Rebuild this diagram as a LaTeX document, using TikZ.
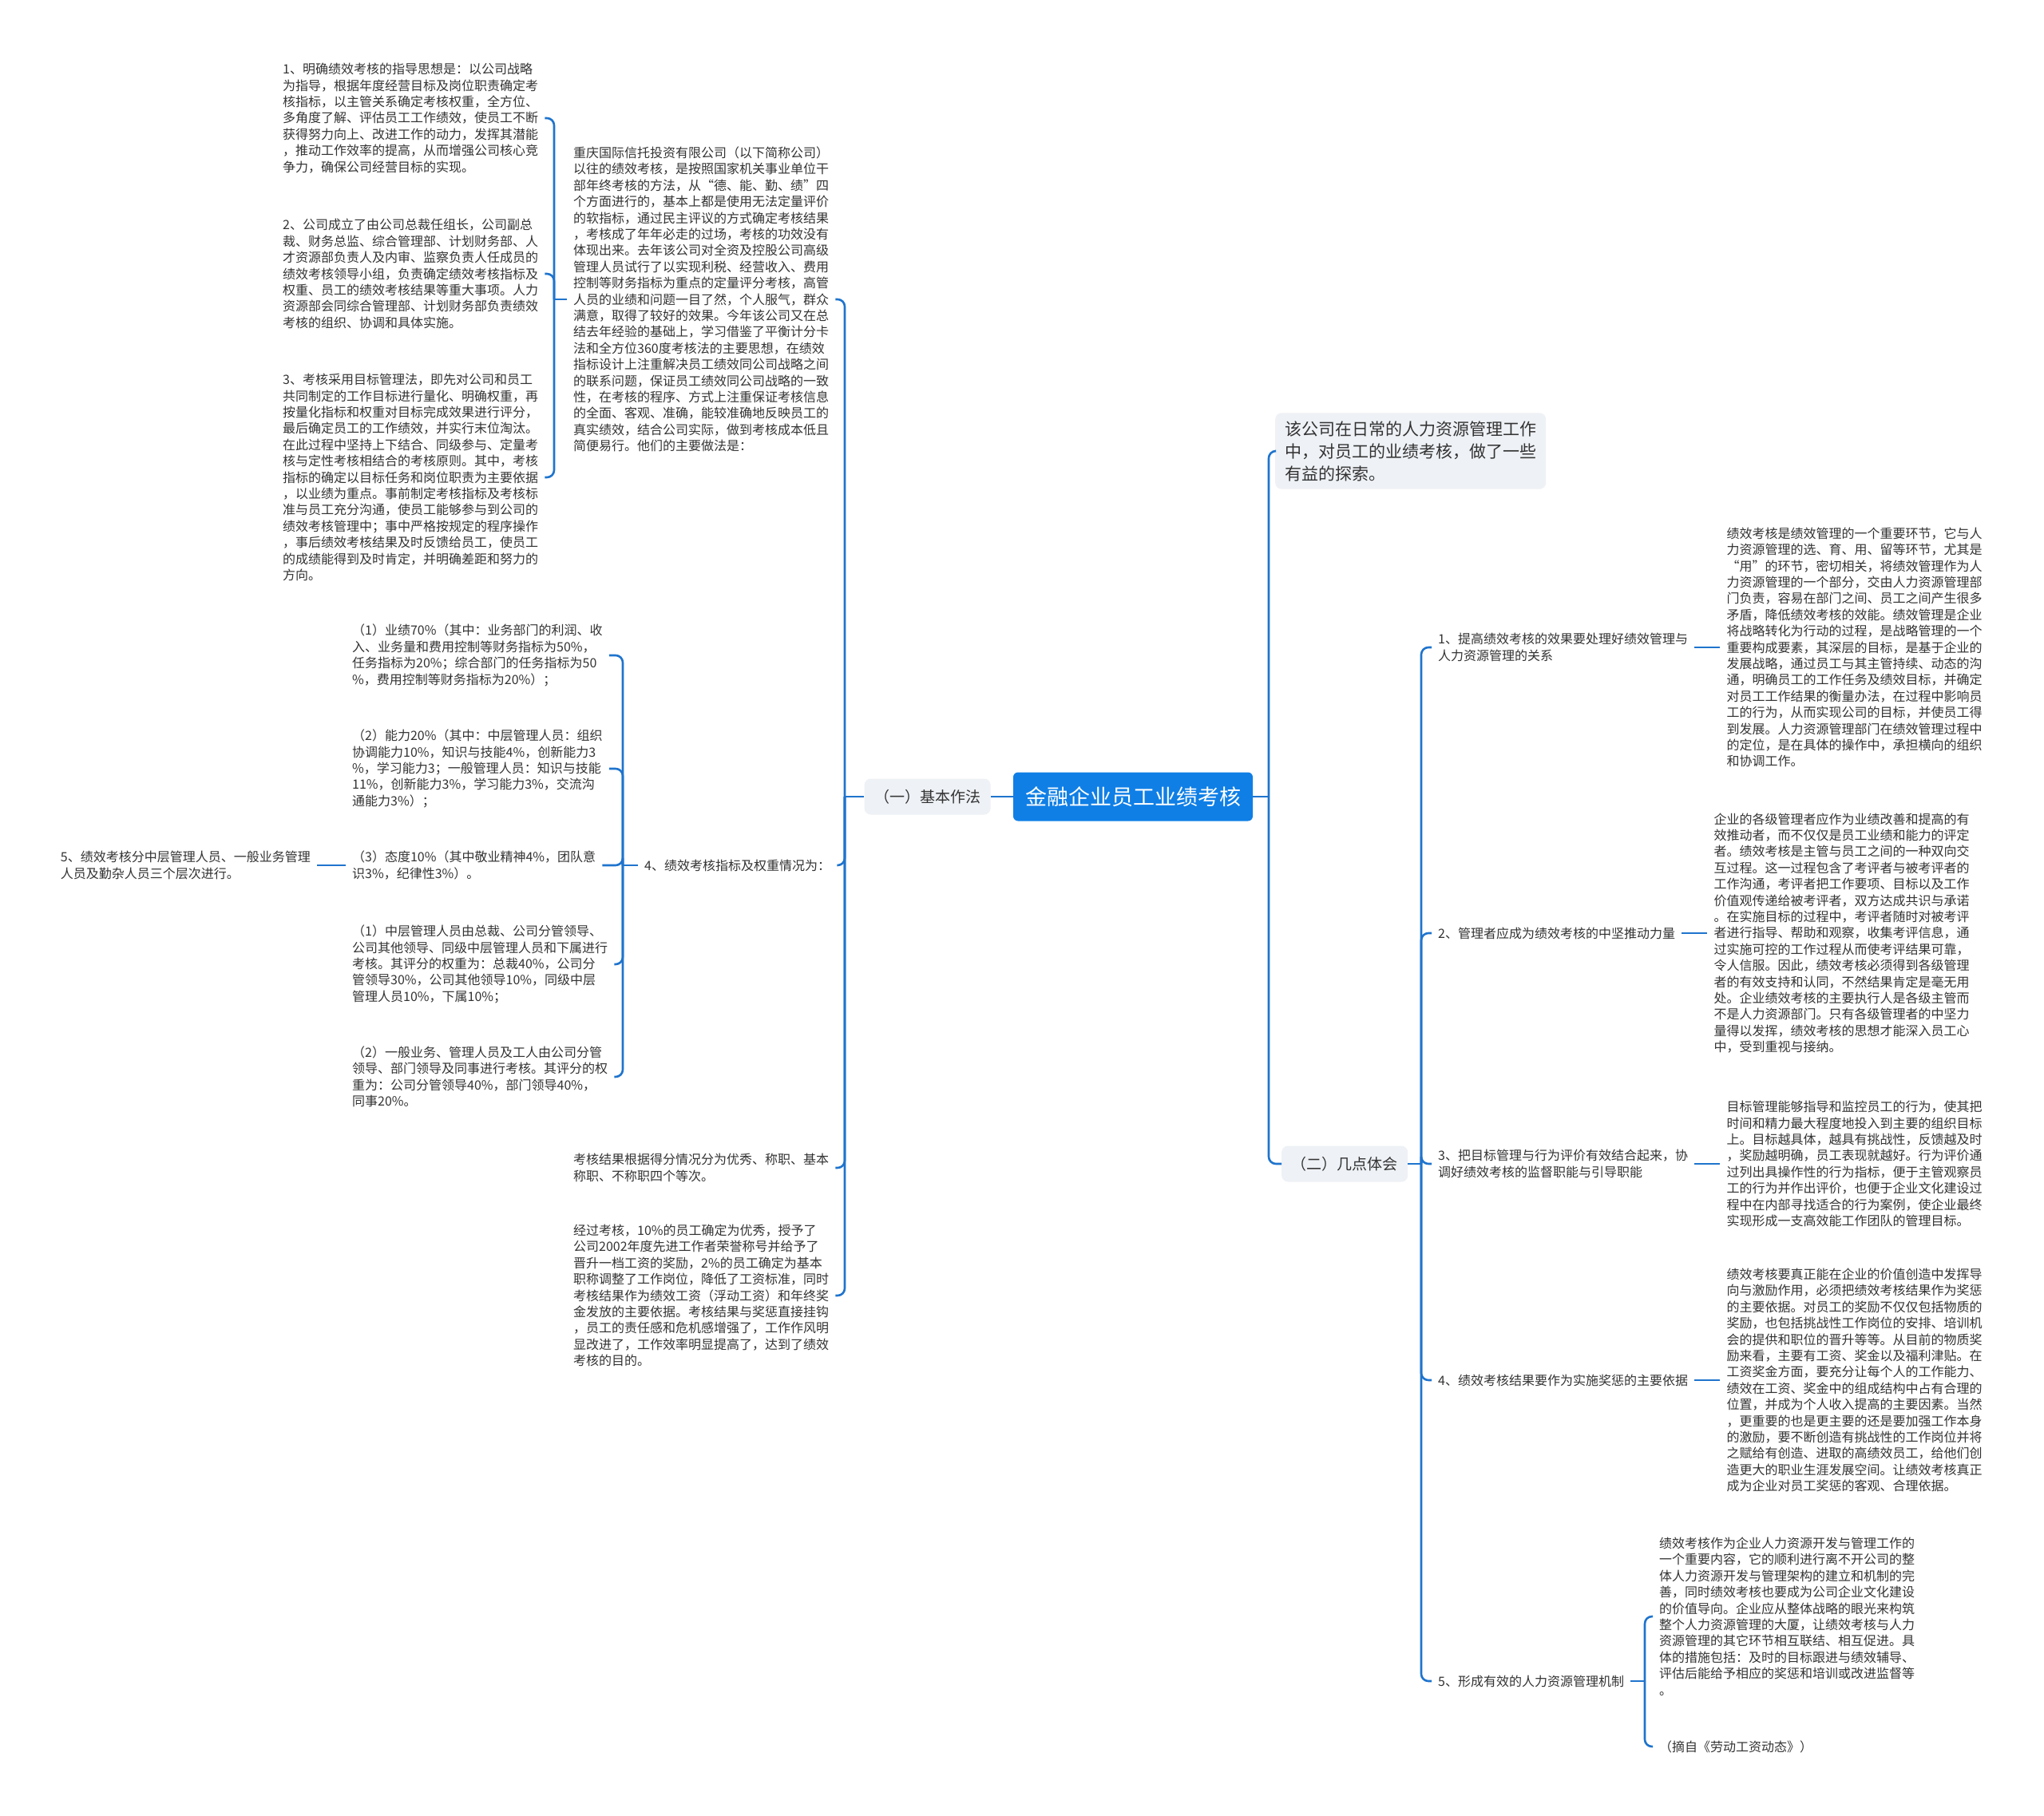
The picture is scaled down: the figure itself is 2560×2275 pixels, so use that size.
\documentclass[tikz,border=0pt]{standalone}
\usepackage{fontspec}
\setmainfont{Noto Sans CJK SC}
\usetikzlibrary{positioning}
\definecolor{rootblue}{HTML}{0F7FE6}
\definecolor{wireblue}{HTML}{1F74CD}
\definecolor{boxgray}{HTML}{EEF1F5}
\definecolor{ink}{HTML}{333333}

\begin{document}
\begin{tikzpicture}[x=1pt, y=-1pt,
  font=\fontsize{16pt}{20.4pt}\selectfont, node distance=32pt,
  txt/.style={align=left, inner xsep=8pt, inner ysep=3pt, text=ink, anchor=west},
  topic/.style={fill=boxgray, rounded corners=8pt, inner xsep=12.5pt, minimum height=45pt, text=ink, font=\fontsize{19pt}{24pt}\selectfont},
  rootbox/.style={fill=rootblue, text=white, rounded corners=6pt, minimum width=300pt, minimum height=61pt, font=\fontsize{27pt}{32pt}\selectfont},
  wire/.style={draw=wireblue, line width=2.6pt, rounded corners=9pt}]
\fill[white] (0,0) rectangle (2560,2275);
\useasboundingbox (0,0) rectangle (2560,2275);

\node[rootbox] (root) at (1419,998) {金融企业员工业绩考核};
\node[topic, left=28pt of root] (jb) {（一）基本作法};
\node[topic, anchor=west] (jt) at (1605,1458) {（二）几点体会};
\node[topic, anchor=west, align=left, inner xsep=12pt, inner ysep=10pt, font=\fontsize{21pt}{28pt}\selectfont] (hint) at (1597,565) {该公司在日常的人力资源管理工作\\中，对员工的业绩考核，做了一些\\有益的探索。};

\coordinate (lx) at (1058,998);
\coordinate (ax) at (694,375);
\coordinate (bx) at (780,1084);
\coordinate (cx) at (1589,998);
\coordinate (ex) at (1780,1458);
\coordinate (fx) at (2060,2106);

\node[txt] (p0) at (710,375) {重庆国际信托投资有限公司（以下简称公司）\\以往的绩效考核，是按照国家机关事业单位干\\部年终考核的方法，从“德、能、勤、绩”四\\个方面进行的，基本上都是使用无法定量评价\\的软指标，通过民主评议的方式确定考核结果\\，考核成了年年必走的过场，考核的功效没有\\体现出来。去年该公司对全资及控股公司高级\\管理人员试行了以实现利税、经营收入、费用\\控制等财务指标为重点的定量评分考核，高管\\人员的业绩和问题一目了然，个人服气，群众\\满意，取得了较好的效果。今年该公司又在总\\结去年经验的基础上，学习借鉴了平衡计分卡\\法和全方位360度考核法的主要思想，在绩效\\指标设计上注重解决员工绩效同公司战略之间\\的联系问题，保证员工绩效同公司战略的一致\\性，在考核的程序、方式上注重保证考核信息\\的全面、客观、准确，能较准确地反映员工的\\真实绩效，结合公司实际，做到考核成本低且\\简便易行。他们的主要做法是：};
\node[txt] (it1) at (346,148) {1、明确绩效考核的指导思想是：以公司战略\\为指导，根据年度经营目标及岗位职责确定考\\核指标，以主管关系确定考核权重，全方位、\\多角度了解、评估员工工作绩效，使员工不断\\获得努力向上、改进工作的动力，发挥其潜能\\，推动工作效率的提高，从而增强公司核心竞\\争力，确保公司经营目标的实现。};
\node[txt] (it2) at (346,343) {2、公司成立了由公司总裁任组长，公司副总\\裁、财务总监、综合管理部、计划财务部、人\\才资源部负责人及内审、监察负责人任成员的\\绩效考核领导小组，负责确定绩效考核指标及\\权重、员工的绩效考核结果等重大事项。人力\\资源部会同综合管理部、计划财务部负责绩效\\考核的组织、协调和具体实施。};
\node[txt] (it3) at (346,598) {3、考核采用目标管理法，即先对公司和员工\\共同制定的工作目标进行量化、明确权重，再\\按量化指标和权重对目标完成效果进行评分，\\最后确定员工的工作绩效，并实行末位淘汰。\\在此过程中坚持上下结合、同级参与、定量考\\核与定性考核相结合的考核原则。其中，考核\\指标的确定以目标任务和岗位职责为主要依据\\，以业绩为重点。事前制定考核指标及考核标\\准与员工充分沟通，使员工能够参与到公司的\\绩效考核管理中；事中严格按规定的程序操作\\，事后绩效考核结果及时反馈给员工，使员工\\的成绩能得到及时肯定，并明确差距和努力的\\方向。};
\node[txt] (r4) at (799,1084) {4、绩效考核指标及权重情况为：};
\node[txt] (w1) at (433,821) {（1）业绩70\%（其中：业务部门的利润、收\\入、业务量和费用控制等财务指标为50\%，\\任务指标为20\%；综合部门的任务指标为50\\\%，费用控制等财务指标为20\%）；};
\node[txt] (w2) at (433,963) {（2）能力20\%（其中：中层管理人员：组织\\协调能力10\%，知识与技能4\%，创新能力3\\\%，学习能力3；一般管理人员：知识与技能\\11\%，创新能力3\%，学习能力3\%，交流沟\\通能力3\%）；};
\node[txt] (w3) at (433,1084) {（3）态度10\%（其中敬业精神4\%，团队意\\识3\%，纪律性3\%）。};
\node[txt, left=36pt of w3] (l5) {5、绩效考核分中层管理人员、一般业务管理\\人员及勤杂人员三个层次进行。};
\node[txt] (lv1) at (433,1208) {（1）中层管理人员由总裁、公司分管领导、\\公司其他领导、同级中层管理人员和下属进行\\考核。其评分的权重为：总裁40\%，公司分\\管领导30\%，公司其他领导10\%，同级中层\\管理人员10\%，下属10\%；};
\node[txt] (lv2) at (433,1349) {（2）一般业务、管理人员及工人由公司分管\\领导、部门领导及同事进行考核。其评分的权\\重为：公司分管领导40\%，部门领导40\%，\\同事20\%。};
\node[txt] (res) at (710,1463) {考核结果根据得分情况分为优秀、称职、基本\\称职、不称职四个等次。};
\node[txt] (fin) at (710,1623) {经过考核，10\%的员工确定为优秀，授予了\\公司2002年度先进工作者荣誉称号并给予了\\晋升一档工资的奖励，2\%的员工确定为基本\\职称调整了工作岗位，降低了工资标准，同时\\考核结果作为绩效工资（浮动工资）和年终奖\\金发放的主要依据。考核结果与奖惩直接挂钩\\，员工的责任感和危机感增强了，工作作风明\\显改进了，工作效率明显提高了，达到了绩效\\考核的目的。};

\node[txt] (g1) at (1793,811) {1、提高绩效考核的效果要处理好绩效管理与\\人力资源管理的关系};
\node[txt] (g2) at (1793,1169) {2、管理者应成为绩效考核的中坚推动力量};
\node[txt] (g3) at (1793,1458) {3、把目标管理与行为评价有效结合起来，协\\调好绩效考核的监督职能与引导职能};
\node[txt] (g4) at (1793,1729) {4、绩效考核结果要作为实施奖惩的主要依据};
\node[txt] (g5) at (1793,2106) {5、形成有效的人力资源管理机制};
\node[txt, right=of g1] (d1) {绩效考核是绩效管理的一个重要环节，它与人\\力资源管理的选、育、用、留等环节，尤其是\\“用”的环节，密切相关，将绩效管理作为人\\力资源管理的一个部分，交由人力资源管理部\\门负责，容易在部门之间、员工之间产生很多\\矛盾，降低绩效考核的效能。绩效管理是企业\\将战略转化为行动的过程，是战略管理的一个\\重要构成要素，其深层的目标，是基于企业的\\发展战略，通过员工与其主管持续、动态的沟\\通，明确员工的工作任务及绩效目标，并确定\\对员工工作结果的衡量办法，在过程中影响员\\工的行为，从而实现公司的目标，并使员工得\\到发展。人力资源管理部门在绩效管理过程中\\的定位，是在具体的操作中，承担横向的组织\\和协调工作。};
\node[txt, right=of g2] (d2) {企业的各级管理者应作为业绩改善和提高的有\\效推动者，而不仅仅是员工业绩和能力的评定\\者。绩效考核是主管与员工之间的一种双向交\\互过程。这一过程包含了考评者与被考评者的\\工作沟通，考评者把工作要项、目标以及工作\\价值观传递给被考评者，双方达成共识与承诺\\。在实施目标的过程中，考评者随时对被考评\\者进行指导、帮助和观察，收集考评信息，通\\过实施可控的工作过程从而使考评结果可靠，\\令人信服。因此，绩效考核必须得到各级管理\\者的有效支持和认同，不然结果肯定是毫无用\\处。企业绩效考核的主要执行人是各级主管而\\不是人力资源部门。只有各级管理者的中坚力\\量得以发挥，绩效考核的思想才能深入员工心\\中，受到重视与接纳。};
\node[txt, right=of g3] (d3) {目标管理能够指导和监控员工的行为，使其把\\时间和精力最大程度地投入到主要的组织目标\\上。目标越具体，越具有挑战性，反馈越及时\\，奖励越明确，员工表现就越好。行为评价通\\过列出具操作性的行为指标，便于主管观察员\\工的行为并作出评价，也便于企业文化建设过\\程中在内部寻找适合的行为案例，使企业最终\\实现形成一支高效能工作团队的管理目标。};
\node[txt, right=of g4] (d4) {绩效考核要真正能在企业的价值创造中发挥导\\向与激励作用，必须把绩效考核结果作为奖惩\\的主要依据。对员工的奖励不仅仅包括物质的\\奖励，也包括挑战性工作岗位的安排、培训机\\会的提供和职位的晋升等等。从目前的物质奖\\励来看，主要有工资、奖金以及福利津贴。在\\工资奖金方面，要充分让每个人的工作能力、\\绩效在工资、奖金中的组成结构中占有合理的\\位置，并成为个人收入提高的主要因素。当然\\，更重要的也是更主要的还是要加强工作本身\\的激励，要不断创造有挑战性的工作岗位并将\\之赋给有创造、进取的高绩效员工，给他们创\\造更大的职业生涯发展空间。让绩效考核真正\\成为企业对员工奖惩的客观、合理依据。};
\node[txt] (d5a) at (2070,2025) {绩效考核作为企业人力资源开发与管理工作的\\一个重要内容，它的顺利进行离不开公司的整\\体人力资源开发与管理架构的建立和机制的完\\善，同时绩效考核也要成为公司企业文化建设\\的价值导向。企业应从整体战略的眼光来构筑\\整个人力资源管理的大厦，让绩效考核与人力\\资源管理的其它环节相互联结、相互促进。具\\体的措施包括：及时的目标跟进与绩效辅导、\\评估后能给予相应的奖惩和培训或改进监督等\\。};
\node[txt] (d5b) at (2070,2188) {（摘自《劳动工资动态》）};

\draw[wire] (root.west) -- (jb.east);
\draw[wire] (root.east) -- (cx);
\draw[wire] (jb.west) -- (lx);
\draw[wire] (p0.east) -| (lx);
\draw[wire] (r4.east) -| (lx);
\draw[wire] (res.east) -| (lx);
\draw[wire] (fin.east) -| (lx);
\draw[wire] (p0.west) -- (ax);
\draw[wire] (it1.east) -| (ax);
\draw[wire] (it2.east) -| (ax);
\draw[wire] (it3.east) -| (ax);
\draw[wire] (r4.west) -- (bx);
\draw[wire] (w1.east) -| (bx);
\draw[wire] (w2.east) -| (bx);
\draw[wire] (w3.east) -| (bx);
\draw[wire] (lv1.east) -| (bx);
\draw[wire] (lv2.east) -| (bx);
\draw[wire] (l5.east) -- (w3.west);
\draw[wire] (hint.west) -| (cx);
\draw[wire] (jt.west) -| (cx);
\draw[wire] (jt.east) -- (ex);
\draw[wire] (g1.west) -| (ex);
\draw[wire] (g2.west) -| (ex);
\draw[wire] (g3.west) -| (ex);
\draw[wire] (g4.west) -| (ex);
\draw[wire] (g5.west) -| (ex);
\draw[wire] (g1.east) -- (d1.west);
\draw[wire] (g2.east) -- (d2.west);
\draw[wire] (g3.east) -- (d3.west);
\draw[wire] (g4.east) -- (d4.west);
\draw[wire] (g5.east) -- (fx);
\draw[wire] (d5a.west) -| (fx);
\draw[wire] (d5b.west) -| (fx);
\end{tikzpicture}
\end{document}
